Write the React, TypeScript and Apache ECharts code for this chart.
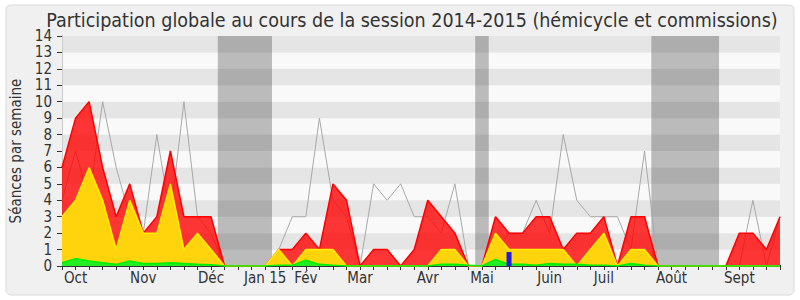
import React, { useEffect, useRef } from "react";
import * as echarts from "echarts";

const titleText = "Participation globale au cours de la session 2014-2015 (hémicycle et commissions)";
const yName = "Séances par semaine";

// weekly series (index = week number of the session)
const redTotal = [6, 9, 10, 6, 3, 5, 2, 3, 7, 3, 3, 3, 0, 0, 0, 0, 1, 1, 2, 1, 5, 4, 0, 1, 1, 0, 1, 4, 3, 2, 0, 0, 3, 2, 2, 3, 3, 1, 2, 2, 3, 0, 3, 3, 0, 0, 0, 0, 0, 0, 2, 2, 1, 3];
const yellowVals = [3, 4, 6, 4, 1, 4, 2, 2, 5, 1, 2, 1, 0, 0, 0, 0, 1, 0, 1, 1, 1, 0, 0, 0, 0, 0, 0, 0, 1, 1, 0, 0, 2, 1, 1, 1, 1, 1, 0, 1, 2, 0, 1, 1, 0, 0, 0, 0, 0, 0, 0, 0, 0, 0];
const greenVals = [0.2, 0.45, 0.3, 0.2, 0.1, 0.3, 0.15, 0.15, 0.2, 0.15, 0.1, 0.08, 0, 0, 0, 0, 0.05, 0.05, 0.35, 0.1, 0.05, 0, 0, 0, 0, 0, 0, 0, 0.1, 0.1, 0.05, 0, 0.4, 0.1, 0.1, 0.05, 0.15, 0.1, 0.1, 0.05, 0.05, 0, 0.15, 0.05, 0, 0, 0, 0, 0, 0, 0, 0, 0, 0];
const grayVals = [4, 7, 4, 10, 6, 3, 2, 8, 3, 10, 3, 2, 0, 0, 0, 0, 1, 3, 3, 9, 4, 3, 0, 5, 4, 5, 3, 3, 2, 5, 0, 0, 1, 2, 2, 4, 2, 8, 4, 3, 3, 3, 1, 7, 0, 0, 0, 0, 0, 0, 0, 4, 0, 3];
const blueVals: (number | null)[] = [null, null, null, null, null, null, null, null, null, null, null, null, null, null, null, null, null, null, null, null, null, null, null, null, null, null, null, null, null, null, null, null, null, 0.85, null, null, null, null, null, null, null, null, null, null, null, null, null, null, null, null, null, null, null, null];

// month labels at week indexes
const monthWeek = [1, 6, 11, 15, 18, 22, 27, 31, 36, 40, 45, 50];
const monthNames = ["Oct", "Nov", "Déc", "Jan 15", "Fév", "Mar", "Avr", "Mai", "Juin", "Juil", "Août", "Sept"];

// vacation periods (in week index units)
const vacStart = [11.5, 30.5, 43.5];
const vacEnd = [15.5, 31.5, 48.5];

const yTicks = [0, 14];

const FONT = "'DejaVu Sans Condensed', 'Liberation Sans', sans-serif";

export default function App() {
  const ref = useRef<HTMLDivElement>(null);
  useEffect(() => {
    if (!ref.current) return;
    const chart = echarts.init(ref.current, undefined, { renderer: "svg" });
    const pairs = (arr: (number | null)[]) => arr.map((v, i) => [i, v]);
    const nWeeks = redTotal.length - 1;
    chart.setOption({
      animation: false,
      backgroundColor: "#ffffff",
      textStyle: { fontFamily: FONT },
      title: {
        text: titleText,
        left: 407,
        top: 4,
        textAlign: "center",
        textStyle: { fontFamily: FONT, fontSize: 19.5, lineHeight: 22, fontWeight: "normal", color: "#333333" },
      },
      graphic: [
        {
          type: "rect",
          z: -10,
          silent: true,
          shape: { x: 6, y: 5, width: 788, height: 290, r: 5 },
          style: { fill: "#f0f0f0", stroke: "#dadada", lineWidth: 1 },
        },
      ],
      grid: { left: 62, right: 20, top: 36, bottom: 34, containLabel: false },
      xAxis: [
        {
          type: "value",
          min: 0,
          max: nWeeks,
          interval: 1,
          axisLine: { show: true, lineStyle: { color: "#333333", width: 1 } },
          axisTick: { show: true, length: 4, lineStyle: { color: "#333333" } },
          splitLine: { show: false },
          axisLabel: {
            show: true,
            margin: 4,
            fontFamily: FONT,
            fontSize: 15,
            color: "#333333",
            showMinLabel: true,
            showMaxLabel: true,
            formatter: (v: number) => {
              const k = monthWeek.indexOf(Math.round(v));
              return k >= 0 ? monthNames[k] : "";
            },
          },
        },
        {
          type: "value",
          position: "top",
          min: 0,
          max: nWeeks,
          interval: 1,
          axisLine: { show: false },
          axisTick: { show: true, length: 1, lineStyle: { color: "#000000" } },
          axisLabel: { show: false },
          splitLine: { show: false },
        },
      ],
      yAxis: [
        {
          type: "value",
          min: yTicks[0],
          max: yTicks[1],
          interval: 1,
          name: yName,
          nameLocation: "middle",
          nameGap: 36,
          nameTextStyle: { fontFamily: FONT, fontSize: 15, color: "#333333" },
          axisLine: { show: true, lineStyle: { color: "#333333" } },
          axisTick: { show: true, length: 5, lineStyle: { color: "#333333" } },
          axisLabel: { margin: 10, fontFamily: FONT, fontSize: 15, lineHeight: 14, color: "#333333" },
          splitLine: { show: false },
          splitArea: { show: true, areaStyle: { color: ["#f9f9f9", "#e5e5e5"] } },
        },
        {
          type: "value",
          position: "right",
          min: yTicks[0],
          max: yTicks[1],
          interval: 1,
          axisLine: { show: true, lineStyle: { color: "#cccccc" } },
          axisTick: { show: false },
          axisLabel: { show: false },
          splitLine: { show: false },
          splitArea: { show: false },
        },
      ],
      series: [
        {
          type: "line",
          name: "gray",
          data: pairs(grayVals),
          symbol: "none",
          lineStyle: { color: "#a8a8a8", width: 1 },
          z: 2,
        },
        {
          type: "line",
          name: "red",
          data: pairs(redTotal),
          symbol: "none",
          lineStyle: { color: "#ff0000", width: 1.5 },
          areaStyle: { color: "rgba(255,0,0,0.79)", opacity: 1, origin: "start" },
          z: 3,
        },
        {
          type: "line",
          name: "yellow",
          data: pairs(yellowVals),
          symbol: "none",
          lineStyle: { color: "#ffee00", width: 1.5 },
          areaStyle: { color: "#ffd40c", opacity: 1, origin: "start" },
          z: 4,
        },
        {
          type: "line",
          name: "green",
          data: pairs(greenVals),
          symbol: "none",
          lineStyle: { color: "#00ee00", width: 1.5 },
          areaStyle: { color: "#22ee22", opacity: 1, origin: "start" },
          z: 5,
        },
        {
          type: "bar",
          name: "blue",
          data: pairs(blueVals),
          barWidth: 5,
          itemStyle: { color: "#1e1ee6" },
          z: 6,
        },
        {
          type: "line",
          name: "vacances",
          data: [],
          symbol: "none",
          z: 7,
          markArea: {
            silent: true,
            itemStyle: { color: "rgba(42,42,42,0.3)" },
            data: vacStart.map((s, i) => [{ xAxis: s }, { xAxis: vacEnd[i] }]),
          },
        },
      ],
    });
    return () => chart.dispose();
  }, []);
  return (
    <div
      ref={ref}
      style={{ position: "absolute", left: 0, top: 0, width: 800, height: 300 }}
    />
  );
}
